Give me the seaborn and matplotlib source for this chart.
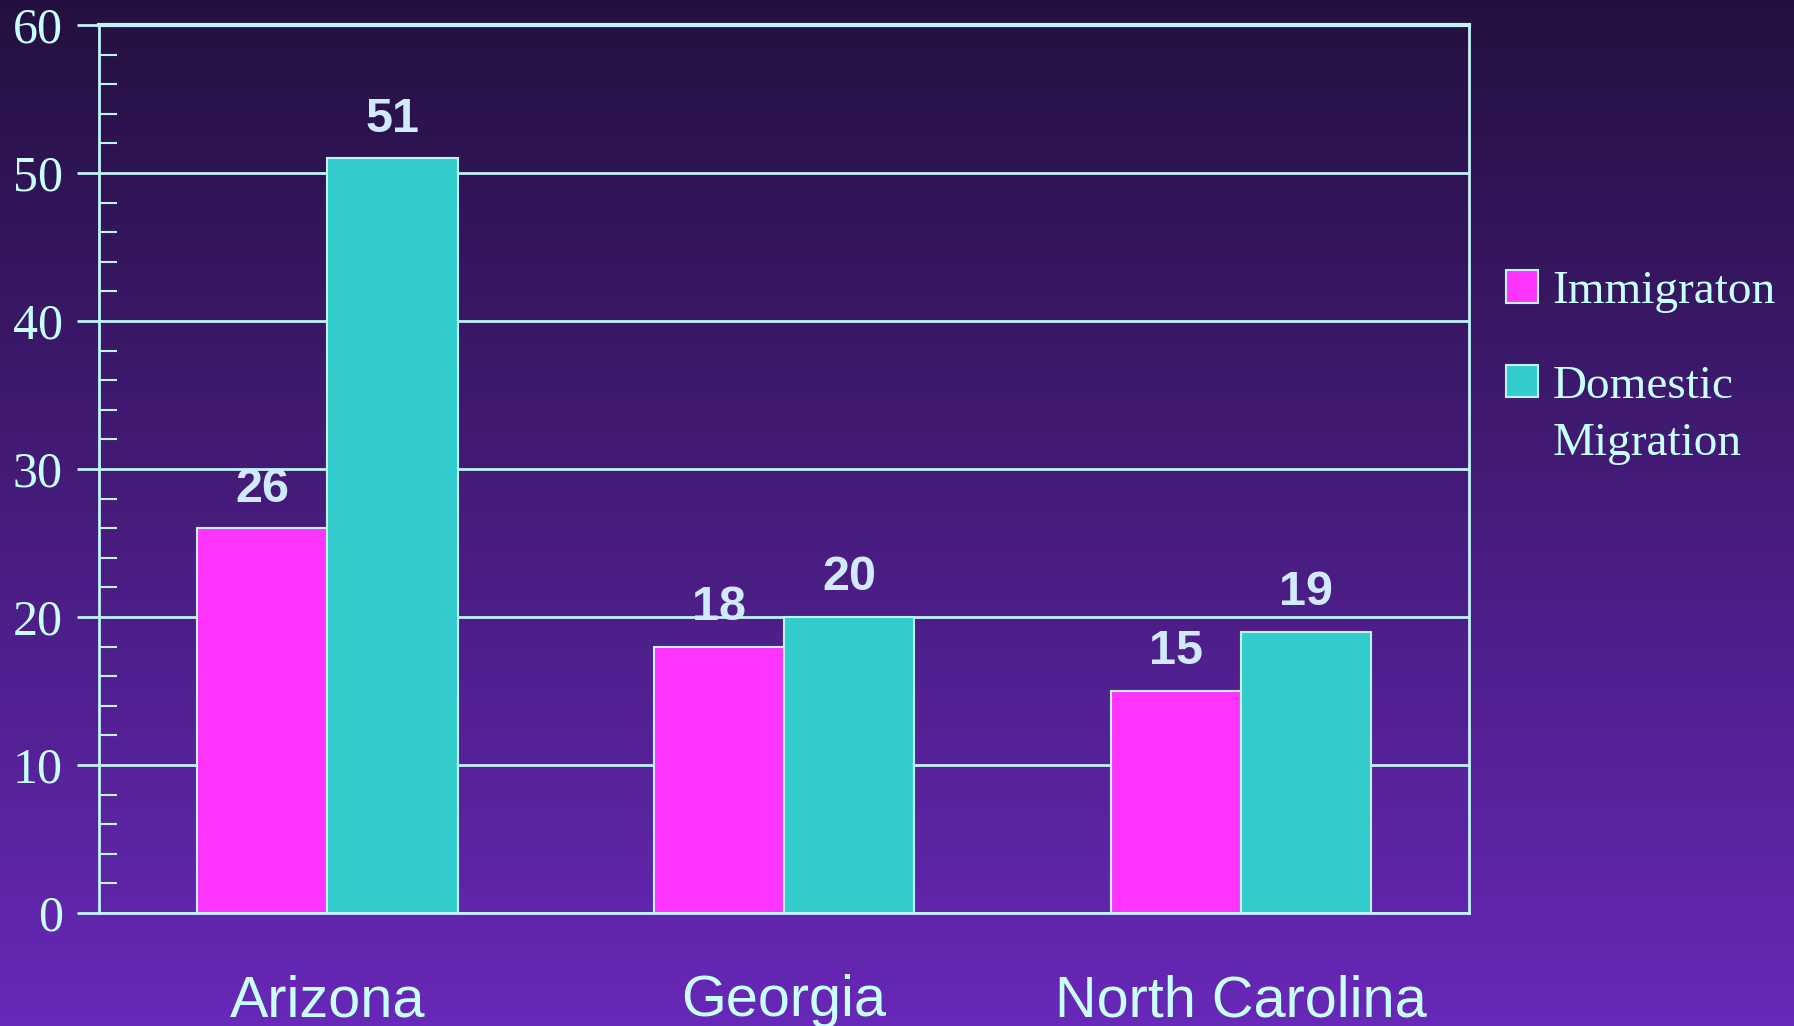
import matplotlib
matplotlib.use("Agg")
import matplotlib.pyplot as plt
from matplotlib.patches import Patch
from matplotlib.ticker import MultipleLocator
import numpy as np
import pandas as pd
import seaborn as sns

states = ["Arizona", "Georgia", "North Carolina"]
immigration = [26, 18, 15]
domestic = [51, 20, 19]
series_names = ["Immigraton", "Domestic"]
series_colors = ["#ff33ff", "#33cccc"]
yticks = [0, 10, 20, 30, 40, 50, 60]

LINE = "#c0f4f8"
TEXT = "#c8ffff"
VALUE = "#d0eaff"


def main():
	df = pd.DataFrame({
		"state": states * 2,
		"series": [series_names[0]] * 3 + [series_names[1]] * 3,
		"value": immigration + domestic,
	})

	sns.set_style("white")
	fig = plt.figure(figsize=(17.94, 10.26), dpi=100)

	# gradient background
	bg = fig.add_axes([0, 0, 1, 1], zorder=-10)
	grad = np.linspace(0, 1, 256).reshape(-1, 1)
	top = np.array([0x24, 0x10, 0x40]) / 255
	bot = np.array([0x68, 0x28, 0xb8]) / 255
	img = top + grad[..., None] * (bot - top)
	bg.imshow(img, aspect="auto", extent=[0, 1, 0, 1], origin="upper")
	bg.axis("off")

	ax = fig.add_axes([0.0552, 0.1101, 0.7637, 0.8655])
	ax.set_facecolor("none")

	sns.barplot(data=df, x="state", y="value", hue="series", hue_order=series_names,
				palette=series_colors, width=0.57, gap=0, ax=ax, legend=False,
				edgecolor=LINE, linewidth=1.5, saturation=1, zorder=3)

	ax.set_xlim(-0.5, 2.5)
	ax.set_ylim(0, 60)
	ax.set_yticks(yticks)
	ax.yaxis.set_minor_locator(MultipleLocator(2))
	ax.grid(axis="y", color=LINE, linewidth=2, zorder=0)
	ax.set_axisbelow(True)

	for side in ["left", "right", "top", "bottom"]:
		ax.spines[side].set_visible(True)
		ax.spines[side].set_color(LINE)
		ax.spines[side].set_linewidth(2)
	ax.spines["top"].set_linewidth(3)

	ax.tick_params(axis="y", which="major", direction="out", length=16, width=2,
				   color=LINE, left=True, pad=10)
	ax.tick_params(axis="y", which="minor", direction="in", length=13, width=1.5,
				   color=LINE, left=True)
	ax.tick_params(axis="x", length=0, pad=44)
	for lab in ax.get_yticklabels():
		lab.set_fontfamily("Liberation Serif")
		lab.set_fontsize(36)
		lab.set_color(TEXT)
	for lab in ax.get_xticklabels():
		lab.set_fontfamily("Liberation Sans")
		lab.set_fontsize(41.5)
		lab.set_color(TEXT)
	ax.set_xlabel("")
	ax.set_ylabel("")

	for cont in ax.containers:
		ax.bar_label(cont, padding=12, fontsize=35, fontweight="bold",
					 fontfamily="Liberation Sans", color=VALUE)

	handles = [Patch(facecolor=c, edgecolor=LINE, linewidth=1.5) for c in series_colors]
	leg = fig.legend(handles, series_names, loc="upper left", bbox_to_anchor=(0.829, 0.755),
					 frameon=False, prop={"family": "Liberation Serif", "size": 34},
					 handlelength=0.68, handleheight=0.68, handletextpad=0.3,
					 labelspacing=1.1, borderaxespad=0)
	for t in leg.get_texts():
		t.set_color(TEXT)

	# second line of the "Domestic Migration" label, placed under "Domestic"
	fig.canvas.draw()
	inv = fig.transFigure.inverted()
	bb = leg.get_texts()[1].get_window_extent()
	x0, y0 = inv.transform((bb.x0, bb.y0))
	fig.text(x0, y0 - 0.014, "Migration", ha="left", va="top",
			 fontfamily="Liberation Serif", fontsize=34, color=TEXT)

	fig.savefig("out.png", dpi=100)


if "__main__" == __name__:
	main()
